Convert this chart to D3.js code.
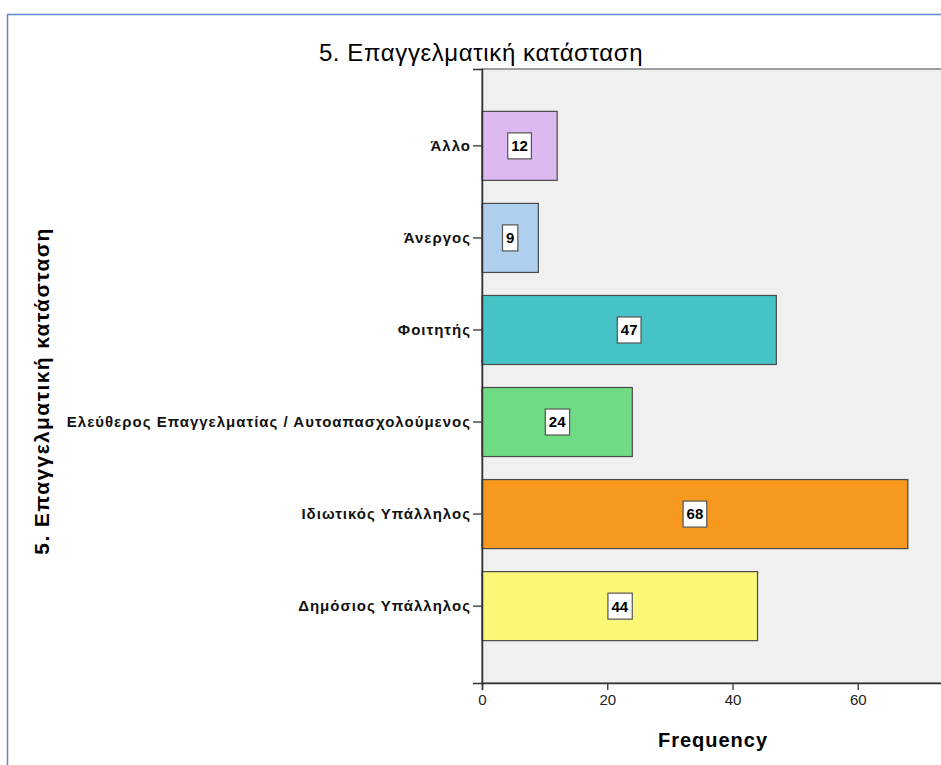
<!DOCTYPE html>
<html>
<head>
<meta charset="utf-8">
<script src="https://cdn.jsdelivr.net/npm/d3@7"></script>
<style>
  html, body { margin: 0; padding: 0; background: #fff; }
  svg { display: block; }
</style>
</head>
<body>
<svg id="chart" width="941" height="765"></svg>
<script>
// Employment status counts, listed from top to bottom of the chart
const categories = [
  "Άλλο",
  "Άνεργος",
  "Φοιτητής",
  "Ελεύθερος Επαγγελματίας / Αυτοαπασχολούμενος",
  "Ιδιωτικός Υπάλληλος",
  "Δημόσιος Υπάλληλος"
];
const frequencies = [12, 9, 47, 24, 68, 44];
const barColors = ["#dcb9f0", "#aed0ee", "#46c3c6", "#6fdc84", "#f7981f", "#fbf777"];
const xTicks = [0, 20, 40, 60];

const chartTitle = "5. Επαγγελματική κατάσταση";
const yTitle = "5. Επαγγελματική κατάσταση";
const xTitle = "Frequency";

const FONT = "'Liberation Sans', Arial, sans-serif";

const svg = d3.select("#chart");
const W = 941, H = 765;

// Outer frame of the output viewer
svg.append("rect")
  .attr("x", 7.5).attr("y", 14.5)
  .attr("width", W).attr("height", H)
  .attr("fill", "#fff")
  .attr("stroke", "#5b8ad0").attr("stroke-width", 1.5);

const plot = { left: 482, top: 69, bottom: 683, right: 983 };

const x = d3.scaleLinear().domain([0, 80]).range([plot.left, plot.right]);
const y = d3.scaleBand().domain(categories)
  .range([plot.top, plot.bottom])
  .paddingInner(0.25).paddingOuter(0.46);

// Plot background
svg.append("rect")
  .attr("x", plot.left).attr("y", plot.top)
  .attr("width", plot.right - plot.left).attr("height", plot.bottom - plot.top)
  .attr("fill", "#f0f0f0")
  .attr("stroke", "#7a7a7a").attr("stroke-width", 1.4);

// Bars
svg.append("g").selectAll("rect")
  .data(categories)
  .join("rect")
  .attr("x", x(0))
  .attr("y", d => y(d))
  .attr("width", (d, i) => x(frequencies[i]) - x(0))
  .attr("height", y.bandwidth())
  .attr("fill", (d, i) => barColors[i])
  .attr("stroke", "#4a4a4a").attr("stroke-width", 1.2);

// Value labels in small white boxes at the bar midpoints
const lab = svg.append("g").selectAll("g")
  .data(categories)
  .join("g")
  .attr("transform", (d, i) =>
    `translate(${x(frequencies[i] / 2)},${y(d) + y.bandwidth() / 2})`);

lab.append("text")
  .attr("text-anchor", "middle")
  .attr("dy", "0.36em")
  .attr("font-family", "'Liberation Sans Narrow', 'Arial Narrow', Arial, sans-serif")
  .attr("font-weight", "bold")
  .attr("font-size", 15)
  .attr("fill", "#000")
  .text((d, i) => frequencies[i]);

lab.each(function () {
  const g = d3.select(this);
  const bb = g.select("text").node().getBBox();
  g.insert("rect", "text")
    .attr("x", bb.x - 3.5).attr("y", -13)
    .attr("width", bb.width + 7).attr("height", 26)
    .attr("fill", "#fff")
    .attr("stroke", "#555").attr("stroke-width", 1.2);
});

// Category axis
const yAxis = svg.append("g")
  .attr("transform", `translate(${plot.left},0)`)
  .call(d3.axisLeft(y).tickSize(9).tickPadding(2));
yAxis.select(".domain").attr("stroke", "#333").attr("stroke-width", 1.5);
yAxis.selectAll(".tick line").attr("stroke", "#333").attr("stroke-width", 1.3);
yAxis.selectAll(".tick text")
  .attr("font-family", FONT)
  .attr("font-weight", "bold")
  .attr("font-size", 15)
  .attr("letter-spacing", 1)
  .attr("fill", "#111");

// Frequency axis
const xAxis = svg.append("g")
  .attr("transform", `translate(0,${plot.bottom})`)
  .call(d3.axisBottom(x).tickValues(xTicks).tickSize(7).tickPadding(4).tickFormat(d3.format("d")));
xAxis.select(".domain").attr("stroke", "#333").attr("stroke-width", 1.5);
xAxis.selectAll(".tick line").attr("stroke", "#333").attr("stroke-width", 1.3);
xAxis.selectAll(".tick text")
  .attr("font-family", FONT)
  .attr("font-size", 15)
  .attr("fill", "#222");

// Titles
svg.append("text")
  .attr("x", 481).attr("y", 61)
  .attr("text-anchor", "middle")
  .attr("font-family", FONT)
  .attr("font-size", 24)
  .attr("letter-spacing", 0.6)
  .attr("fill", "#000")
  .text(chartTitle);

svg.append("text")
  .attr("transform", "translate(49,391) rotate(-90)")
  .attr("text-anchor", "middle")
  .attr("font-family", FONT)
  .attr("font-weight", "bold")
  .attr("font-size", 21)
  .attr("letter-spacing", 1.4)
  .attr("fill", "#000")
  .text(yTitle);

svg.append("text")
  .attr("x", 713).attr("y", 747)
  .attr("text-anchor", "middle")
  .attr("font-family", FONT)
  .attr("font-weight", "bold")
  .attr("font-size", 20)
  .attr("letter-spacing", 1)
  .attr("fill", "#000")
  .text(xTitle);
</script>
</body>
</html>
